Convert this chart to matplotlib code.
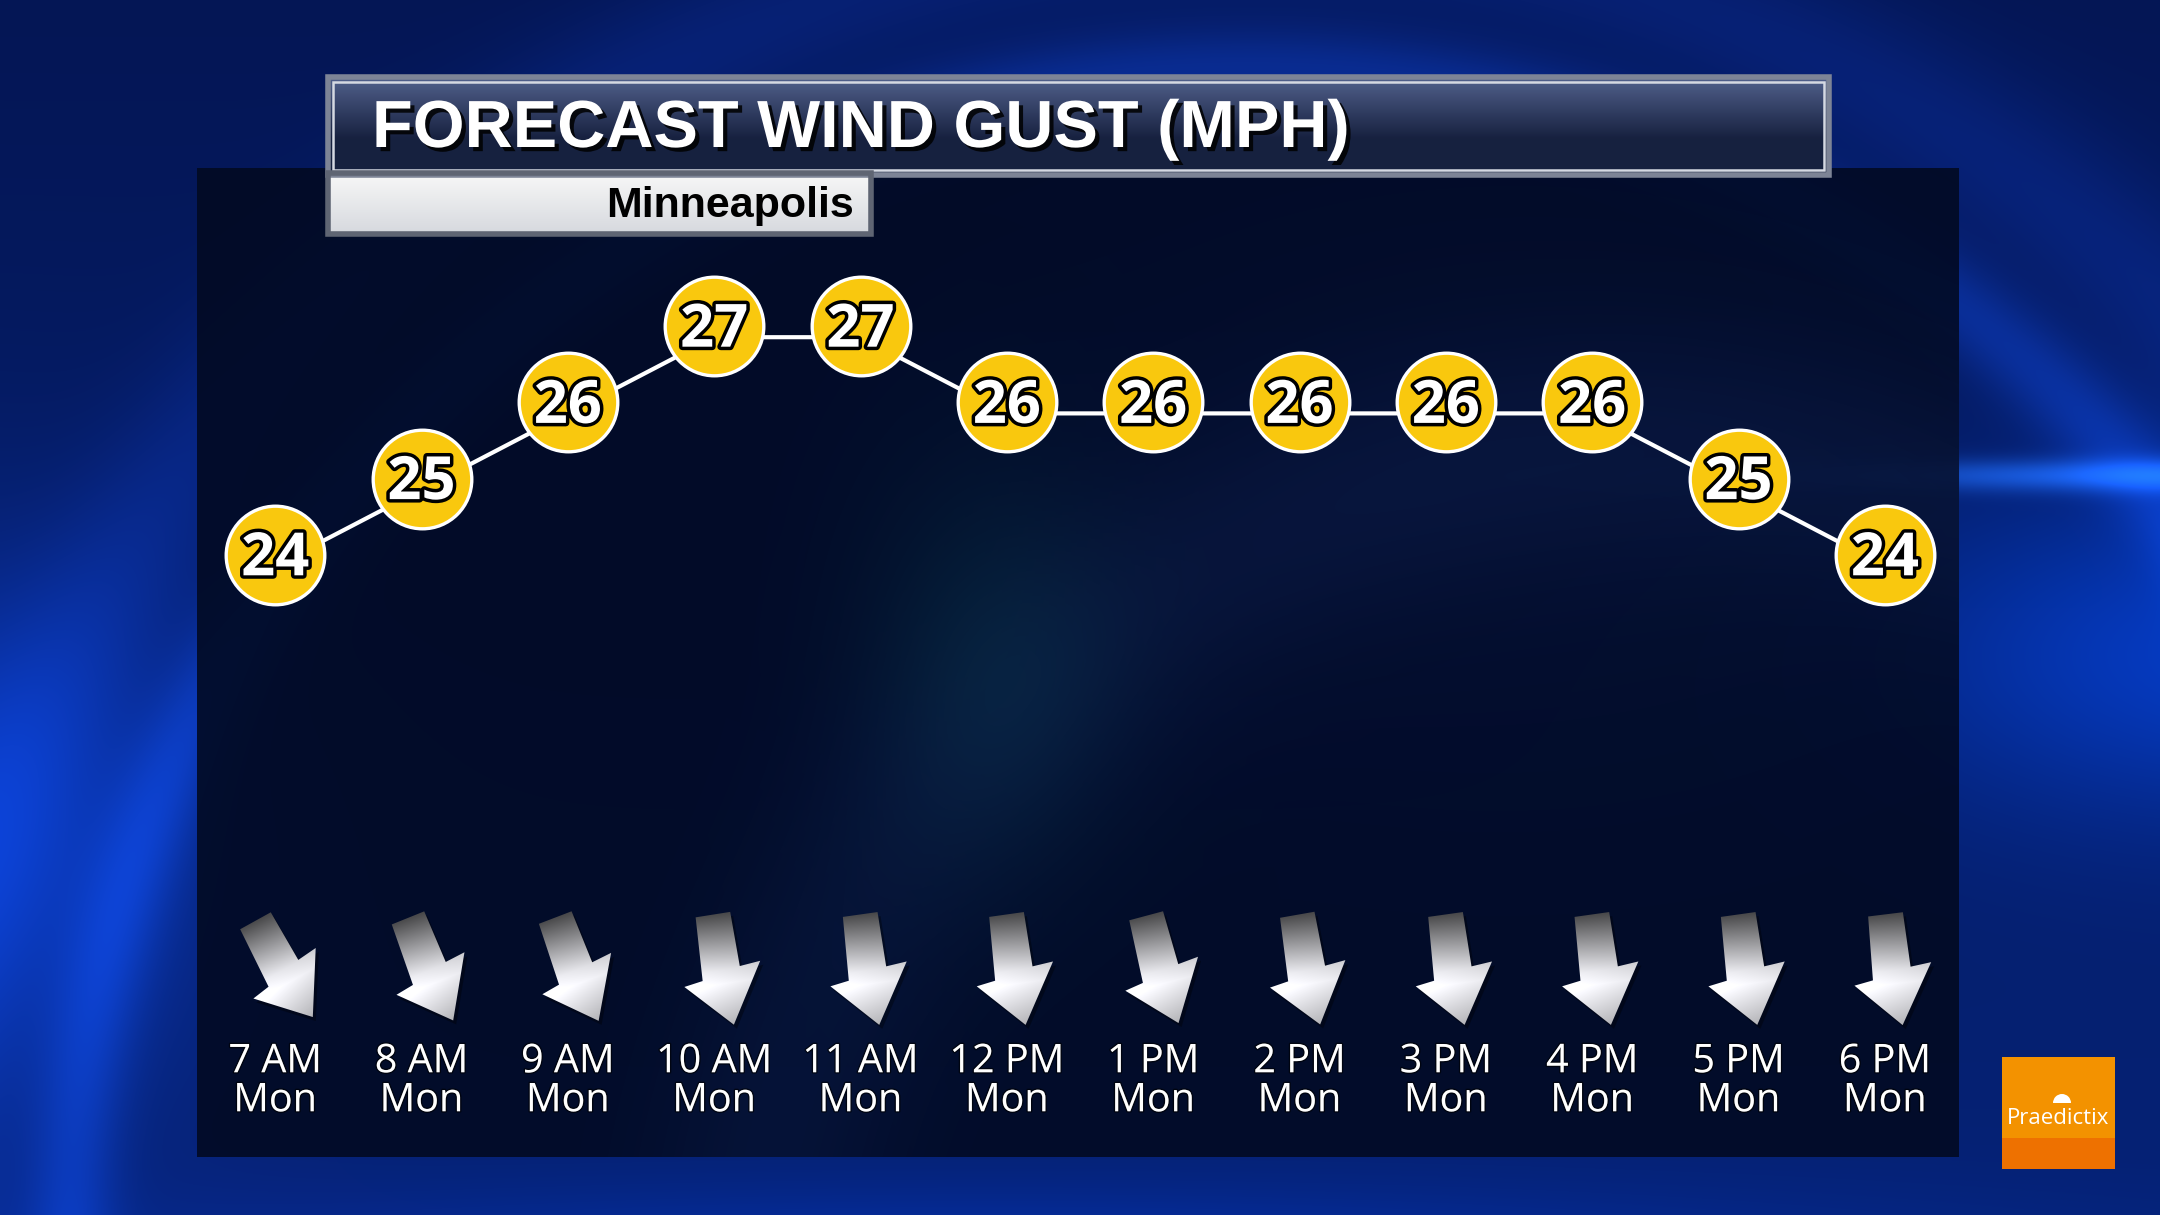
import numpy as np
import matplotlib
matplotlib.use('Agg')
import matplotlib.pyplot as plt
import matplotlib.patheffects as pe
from matplotlib.patches import Rectangle, Polygon, Wedge
from matplotlib.transforms import blended_transform_factory, offset_copy

hours = ['7 AM', '8 AM', '9 AM', '10 AM', '11 AM', '12 PM',
         '1 PM', '2 PM', '3 PM', '4 PM', '5 PM', '6 PM']
day = 'Mon'
gusts = [24, 25, 26, 27, 27, 26, 26, 26, 26, 26, 25, 24]
wind_from = [331, 338, 339, 351, 352, 352, 345, 350, 352, 352, 352, 353]  # deg
title = 'FORECAST WIND GUST (MPH)'
city = 'Minneapolis'

W, H = 2160, 1215
fig = plt.figure(figsize=(W / 100, H / 100), dpi=100)

# background axes, pixel units, y down
bg = fig.add_axes([0, 0, 1, 1])
bg.set_xlim(0, W)
bg.set_ylim(H, 0)
bg.axis('off')

yy, xx = np.mgrid[0:H, 0:W].astype(float)


def blob(cx, cy, sx, sy, X=xx, Y=yy):
    return np.exp(-(((X - cx) / sx) ** 2 + ((Y - cy) / sy) ** 2))


def ring(cx, cy, r, w, X=xx, Y=yy):
    d = np.hypot(X - cx, Y - cy)
    return np.exp(-((d - r) / w) ** 2)


c_top = np.array([4, 22, 85]) / 255
c_bot = np.array([6, 34, 118]) / 255
img = c_top + (c_bot - c_top) * (yy / H)[..., None]
img += blob(2250, 475, 420, 16)[..., None] * np.array([0.10, 0.28, 0.50])
img += blob(2250, 650, 380, 170)[..., None] * np.array([0.0, 0.12, 0.36])
img += blob(-60, 820, 260, 260)[..., None] * np.array([0.02, 0.11, 0.32])
img += blob(1000, 1260, 900, 70)[..., None] * np.array([0.0, 0.05, 0.18])
img += ring(1250, 1250, 1180, 45)[..., None] * np.array([0.02, 0.08, 0.22])
img += ring(1250, 1250, 1320, 80)[..., None] * np.array([0.01, 0.04, 0.12])
img = np.clip(img, 0, 1)
bg.imshow(img, extent=(0, W, H, 0), zorder=0, interpolation='bilinear')

# dark panel
px0, py0, px1, py1 = 197, 168, 1959, 1157
bg.add_patch(Rectangle((px0, py0), px1 - px0, py1 - py0, fc='#020a22',
                       ec='none', alpha=0.9, zorder=1))
sy_, sx_ = yy[py0:py1, px0:px1], xx[py0:py1, px0:px1]
glow = np.zeros((py1 - py0, px1 - px0, 4))
a1 = blob(990, 660, 130, 200, sx_, sy_) * 0.18
a2 = ring(1650, 1350, 900, 120, sx_, sy_) * 0.14
a3 = blob(1500, 500, 500, 300, sx_, sy_) * 0.08
tot = np.maximum(a1 + a2 + a3, 1e-6)
glow[..., 0] = (a1 * 0.05 + a2 * 0.12 + a3 * 0.1) / tot
glow[..., 1] = (a1 * 0.40 + a2 * 0.25 + a3 * 0.2) / tot
glow[..., 2] = (a1 * 0.40 + a2 * 0.55 + a3 * 0.5) / tot
glow[..., 3] = np.clip(a1 + a2 + a3, 0, 1)
bg.imshow(glow, extent=(px0, px1, py1, py0), zorder=1.5, interpolation='bilinear')

# title bar
tx0, ty0, tx1, ty1 = 328, 77, 1829, 175
g = np.linspace(0, 1, 120)[:, None]
top_c = np.array([0.32, 0.38, 0.55])
bot_c = np.array([0.09, 0.13, 0.25])
grad = top_c + (bot_c - top_c) * np.clip(g * 1.6, 0, 1)[..., None]
grad = np.repeat(grad, 2, axis=1)
bg.imshow(grad, extent=(tx0, tx1, ty1, ty0), zorder=5, aspect='auto')
bg.add_patch(Rectangle((tx0, ty0), tx1 - tx0, ty1 - ty0, fill=False,
                       ec='#7d8496', lw=4, zorder=6))
bg.add_patch(Rectangle((tx0 + 5, ty0 + 5), tx1 - tx0 - 10, ty1 - ty0 - 10,
                       fill=False, ec='#d5d9e2', lw=1.8, zorder=6))
bg.text(372, 130, title, color='white', fontsize=48, fontweight='bold',
        family='Liberation Sans', ha='left', va='center', zorder=7,
        path_effects=[pe.SimplePatchShadow(offset=(3, -3), shadow_rgbFace='black', alpha=0.85),
                      pe.Normal()])

# city box
cx0, cy0, cx1, cy1 = 328, 173, 871, 234
g2 = np.linspace(0, 1, 60)[:, None]
grad2 = np.array([0.97, 0.97, 0.97]) + (np.array([0.84, 0.85, 0.87]) - 0.97) * g2[..., None]
grad2 = np.repeat(grad2, 2, axis=1)
bg.imshow(grad2, extent=(cx0, cx1, cy1, cy0), zorder=5, aspect='auto')
bg.add_patch(Rectangle((cx0, cy0), cx1 - cx0, cy1 - cy0, fill=False,
                       ec='#5f6573', lw=4, zorder=6))
bg.text(854, 206, city, color='black', fontsize=31, fontweight='bold',
        family='Liberation Sans', ha='right', va='center', zorder=7)

# chart axes
ax = fig.add_axes([202 / W, (H - 631) / H, 1756 / W, 381 / H])
ax.set_xlim(-0.5, len(hours) - 0.5)
ax.set_ylim(23, 28)
ax.axis('off')
ax.patch.set_alpha(0)
x = np.arange(len(hours))

line_tr = offset_copy(ax.transData, fig=fig, x=0, y=-11, units='dots')
ax.plot(x, gusts, color='white', lw=3, zorder=2, transform=line_tr, clip_on=False)
ax.plot(x, gusts, 'o', ms=71, mfc='#F9C80E', mec='white', mew=2.4, zorder=3, clip_on=False)
num_tr = offset_copy(ax.transData, fig=fig, x=0, y=-5, units='dots')
for xi, gv in zip(x, gusts):
    ax.text(xi, gv, str(gv), ha='center', va='center', fontsize=43,
            fontweight='bold', family='Open Sans', color='white', zorder=4,
            transform=num_tr,
            path_effects=[pe.withStroke(linewidth=5, foreground='black')])

# time labels
trans = blended_transform_factory(ax.transData, bg.transData)
lab_fx = [pe.withStroke(linewidth=2, foreground=(0, 0, 0, 0.6))]
for xi, h in zip(x, hours):
    ax.text(xi, 1062, h, transform=trans, ha='center', va='center', fontsize=28.5,
            family='Open Sans', color='white', path_effects=lab_fx, zorder=5)
    ax.text(xi, 1101, day, transform=trans, ha='center', va='center', fontsize=28.5,
            family='Open Sans', color='white', path_effects=lab_fx, zorder=5)

# wind arrows
shape = np.array([[-17, -56], [18, -56], [19, -1], [40, -3], [4, 56],
                  [-39, 11], [-20, 8]], dtype=float)
stops = np.array([0.0, 0.5, 0.62, 1.0])
shades = np.array([0.30, 0.92, 1.0, 0.72])
for xi, wf in zip(x, wind_from):
    b = np.deg2rad((wf + 180) % 360)
    d = np.array([np.sin(b), -np.cos(b)])   # toward, screen coords (y down)
    u = np.array([d[1], -d[0]])
    cx = ax.transData.transform((xi, 25))[0] + 7
    cy = 970
    pts = np.array([cx, cy]) + shape[:, :1] * u + shape[:, 1:] * d
    shadow = Polygon(pts + [3, 4], closed=True, fc='black', ec='none', alpha=0.35, zorder=4)
    bg.add_patch(shadow)
    poly = Polygon(pts, closed=True, fc='none', ec='none', zorder=5)
    bg.add_patch(poly)
    gy, gx = np.mgrid[cy - 70:cy + 70, cx - 70:cx + 70]
    vv = ((gx - cx) * d[0] + (gy - cy) * d[1] + 56) / 112
    uu = ((gx - cx) * u[0] + (gy - cy) * u[1]) / 39
    s = np.interp(vv, stops, shades) * (1 - 0.08 * uu)
    tex = np.clip(np.dstack([s * 0.98, s * 0.98, s]), 0, 1)
    im = bg.imshow(tex, extent=(cx - 70, cx + 70, cy + 70, cy - 70), zorder=5,
                   interpolation='bilinear')
    im.set_clip_path(poly)

# logo
lx0, ly0, lx1, ly1 = 2002, 1057, 2115, 1169
bg.add_patch(Rectangle((lx0, ly0), lx1 - lx0, ly1 - ly0, fc='#F39200', ec='none', zorder=6))
bg.add_patch(Rectangle((lx0, 1138), lx1 - lx0, ly1 - 1138, fc='#EE7100', ec='none', zorder=6))
bg.add_patch(Wedge((2062, 1103), 9, 180, 360, fc='white', ec='none', zorder=7))
bg.text(2058, 1119, 'Praedictix', color='white', fontsize=16, family='Open Sans',
        ha='center', va='center', zorder=7)

fig.savefig('out.png', dpi=100)
